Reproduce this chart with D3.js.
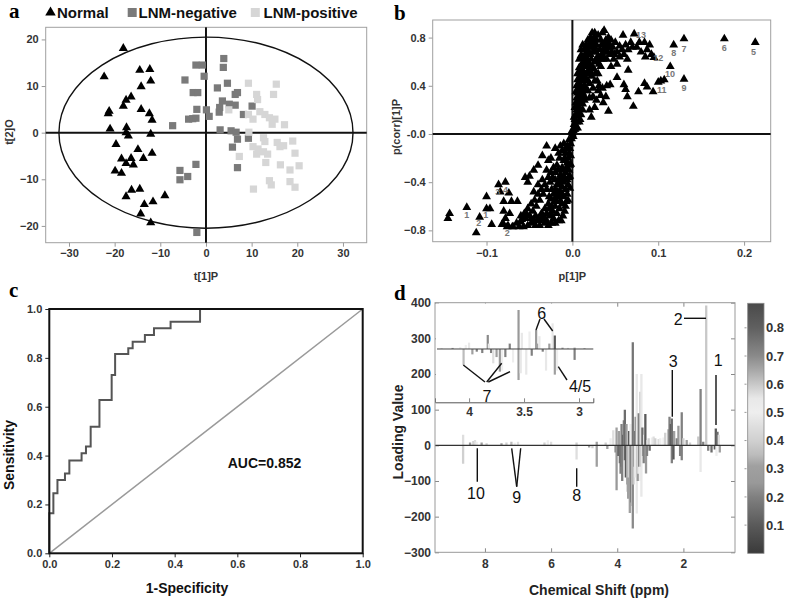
<!DOCTYPE html>
<html>
<head>
<meta charset="utf-8">
<script src="https://d3js.org/d3.v7.min.js"></script>
<style>
body { margin: 0; background: #fff; }
text { font-family: Arial, "Liberation Sans", sans-serif; }
</style>
</head>
<body>
<div id="fig"></div>
<script>
// ---------- data: panel a (scores) ----------
var normalPts = [[-18.1,18.1],[-22.3,12],[-14.5,13.4],[-12.3,13.6],[-12.1,11.1],[-14.2,9.9],[-21.2,4.6],[-21.4,4.1],
  [-16.4,7.7],[-17.5,7],[-18.1,5.7],[-14.2,5],[-12.4,4.1],[-11.8,2.7],[-21,0.8],[-17.4,1.1],[-17.5,0],[-17,-0.7],
  [-12.1,-0.3],[-19.7,-2.5],[-14.9,-3.6],[-11.8,-4.4],[-13.7,-5.5],[-18.5,-5.6],[-16.4,-5.5],[-17.5,-6.6],[-15.9,-6.9],
  [-19.9,-8.2],[-18.5,-8.7],[-16.3,-12.3],[-14.5,-12.1],[-17.5,-13.7],[-9,-13.5],[-13.5,-15.4],[-11.6,-14.8],
  [-14.3,-17.4],[-12.1,-19.3]];
var lnmNegPts = [[-2.2,14.5],[-0.8,14.5],[-0.4,12.1],[3.9,15.9],[3.8,14],[-4.6,11.3],[-2.8,8.6],[-1.8,8.6],[2.5,9.6],
  [4.7,10.6],[6.4,8.2],[6.9,8.6],[3.6,6.8],[3,5.4],[2.9,4.4],[5.1,6.1],[6.4,5.9],[10.1,5.7],[8.2,3.9],[-2,5],[0.1,4.9],
  [0.7,3.5],[-3.8,2.9],[-2.9,3],[-2.2,3.1],[-7.3,1.5],[3.1,0.6],[5.5,0.4],[6.6,0.1],[6.9,-1.4],[9.3,-1.2],[5.8,-3.1],
  [6.9,-7.5],[-2.2,-6.8],[-5.7,-8.1],[-5.7,-10.1],[-4,-9.4],[-2,-21.4]];
var lnmPosPts = [[9.3,10.6],[11.1,8.2],[11.3,7.1],[15.4,10.4],[14.8,8.2],[5,4.9],[9.3,3.9],[10.3,2.9],[11.8,4.5],
  [12.9,3.9],[13.9,3.2],[15.1,2.9],[14.5,1.8],[17.2,1.7],[9.4,0.1],[12.6,-1.1],[12.9,-1.9],[15.6,-2.1],[16.2,-3],
  [17,-2.8],[19,-1.8],[10.3,-3],[11.4,-3.5],[12.6,-4.1],[11.1,-4.6],[13.5,-4.6],[7.3,-5.1],[13.1,-6.4],[16.3,-6.9],
  [19.5,-4.4],[20.4,-7.1],[18.4,-8],[13.9,-10.3],[14.3,-11.2],[18.4,-10.5],[19.5,-11.7],[10.4,-12.1]];
var groupNames = ["Normal", "LNM-negative", "LNM-positive"];

// ---------- data: panel b (S-plot loadings) ----------
var loadPts = [
  [0.213,0.76],[0.177,0.79],[0.130,0.79],[0.118,0.74],[0.130,0.455],[0.114,0.56],[0.103,0.44],[0.107,0.45],[0.100,0.43],
  [0.095,0.635],[0.072,0.83],[0.059,0.82],[0.037,0.86],[0.035,0.84],[0.084,0.76],[0.090,0.74],[0.078,0.76],[0.068,0.76],
  [0.087,0.70],[0.092,0.66],[0.085,0.64],[0.080,0.68],[0.075,0.72],[0.070,0.72],[0.065,0.70],[0.062,0.74],[0.058,0.70],
  [0.055,0.73],[0.052,0.68],[0.050,0.76],[0.047,0.72],[0.045,0.78],[0.042,0.80],[0.040,0.76],[0.038,0.72],[0.044,0.66],
  [0.048,0.62],[0.052,0.58],[0.055,0.64],[0.060,0.66],[0.064,0.62],[0.045,0.56],[0.040,0.62],[0.036,0.68],[0.033,0.78],
  [0.030,0.82],[0.028,0.78],[0.025,0.80],[0.022,0.76],
  [0.094,0.35],[0.087,0.39],[0.084,0.42],[0.077,0.35],[0.065,0.53],[0.060,0.41],[0.062,0.37],[0.064,0.31],[0.071,0.23],
  [0.042,0.19],[0.039,0.31],[0.044,0.41],[0.035,0.38],[0.024,0.31],[0.022,0.14],[0.030,0.36],[0.052,0.47],[0.040,0.40],
  [0.033,0.32],[0.028,0.28],[0.036,0.26],[0.026,0.22],[0.020,0.20],
  [0.001,0.03],[0.002,0.08],[0.003,0.12],[0.004,0.16],[0.005,0.2],[0.006,0.24],[0.007,0.28],[0.008,0.32],[0.009,0.36],
  [0.010,0.40],[0.011,0.44],[0.012,0.48],[0.013,0.52],[0.014,0.56],[0.015,0.60],[0.016,0.64],[0.018,0.68],[0.020,0.72],
  [0.006,0.15],[0.008,0.22],[0.010,0.28],[0.012,0.34],[0.014,0.40],[0.016,0.46],[0.018,0.52],[0.020,0.58],[0.022,0.62],
  [0.024,0.68],[0.026,0.72],[0.028,0.74],[0.003,0.22],[0.005,0.30],[0.007,0.38],[0.008,0.46],[0.010,0.52],[0.011,0.58],
  [0.012,0.64],[0.014,0.70],[0.016,0.74],[0.018,0.78],[0.012,0.25],[0.015,0.30],[0.018,0.36],[0.020,0.42],[0.022,0.48],
  [0.025,0.54],[0.028,0.60],[0.030,0.65],[0.032,0.70],[0.034,0.74],[0.020,0.30],[0.024,0.38],[0.026,0.44],[0.030,0.50],
  [0.033,0.56],[0.036,0.62],[0.038,0.68],[0.040,0.72],[0.042,0.76],[0.006,0.05],[0.009,0.12],[0.004,0.35],[0.006,0.45],
  [0.008,0.55],[0.010,0.65],
  [0.004,0.05],[0.005,0.10],[0.007,0.18],[0.009,0.26],[0.011,0.32],[0.013,0.38],[0.015,0.44],[0.017,0.50],[0.019,0.56],
  [0.021,0.66],[0.023,0.72],[0.025,0.76],[0.027,0.68],[0.029,0.62],[0.031,0.58],[0.033,0.62],[0.035,0.66],[0.037,0.74],
  [0.039,0.78],[0.041,0.68],[0.043,0.72],[0.046,0.68],[0.049,0.66],[0.013,0.60],[0.015,0.66],[0.017,0.70],[0.019,0.74],
  [0.021,0.80],[0.023,0.84],[0.026,0.84],[0.006,0.34],[0.007,0.42],[0.009,0.50],[0.011,0.54],[0.013,0.46],[0.016,0.56],
  [0.018,0.60],[0.021,0.52],[0.023,0.56],[0.026,0.60],[0.027,0.50],[0.029,0.44],[0.031,0.40],[0.018,0.44],[0.016,0.36],
  [0.014,0.28],[0.012,0.20],[0.010,0.16],[0.008,0.10],[0.003,0.04],[0.002,0.14],[0.004,0.26],[0.005,0.40],[0.006,0.50],
  [0.008,0.62],[0.010,0.70],[0.012,0.74],[0.001,-0.02],[-0.001,0.02],[0.002,0.04],
  [0.000,0.00],[-0.001,-0.04],[-0.002,-0.08],[-0.003,-0.12],[-0.004,-0.16],[-0.005,-0.20],[-0.006,-0.24],[-0.007,-0.28],
  [-0.008,-0.32],[-0.009,-0.36],[-0.010,-0.40],[-0.012,-0.44],[-0.014,-0.48],[-0.016,-0.52],[-0.018,-0.56],[-0.020,-0.60],
  [-0.023,-0.64],[-0.026,-0.68],[-0.006,-0.10],[-0.008,-0.16],[-0.010,-0.22],[-0.012,-0.28],[-0.014,-0.34],[-0.016,-0.38],
  [-0.018,-0.42],[-0.020,-0.46],[-0.022,-0.50],[-0.025,-0.54],[-0.028,-0.58],[-0.032,-0.62],[-0.036,-0.66],[-0.040,-0.70],
  [-0.012,-0.14],[-0.015,-0.20],[-0.018,-0.26],[-0.020,-0.32],[-0.023,-0.36],[-0.026,-0.40],[-0.030,-0.46],[-0.034,-0.50],
  [-0.038,-0.55],[-0.042,-0.60],[-0.046,-0.64],[-0.050,-0.68],[-0.055,-0.70],[-0.060,-0.73],[-0.004,-0.30],[-0.006,-0.38],
  [-0.008,-0.46],[-0.010,-0.52],[-0.012,-0.58],[-0.015,-0.62],[-0.018,-0.66],[-0.022,-0.70],[-0.003,-0.45],[-0.005,-0.55],
  [-0.008,-0.60],[-0.030,-0.10],[-0.035,-0.18],[-0.025,-0.20],[-0.040,-0.26],[-0.045,-0.30],[-0.050,-0.35],[-0.055,-0.36],
  [-0.052,-0.40],[-0.030,-0.30],[-0.035,-0.38],[-0.040,-0.42],[-0.045,-0.48],[-0.020,-0.12],[-0.028,-0.22],
  [-0.002,-0.18],[-0.003,-0.26],[-0.004,-0.36],[-0.005,-0.42],[-0.006,-0.50],[-0.007,-0.56],[-0.009,-0.64],[-0.011,-0.68],
  [-0.013,-0.72],[-0.016,-0.72],[-0.020,-0.74],[-0.024,-0.74],[-0.028,-0.76],[-0.032,-0.74],[-0.038,-0.76],[-0.043,-0.76],
  [-0.048,-0.74],[-0.052,-0.76],[-0.057,-0.77],[-0.062,-0.77],[-0.007,-0.12],[-0.009,-0.20],[-0.011,-0.30],[-0.013,-0.38],
  [-0.015,-0.42],[-0.017,-0.48],[-0.019,-0.52],[-0.021,-0.56],[-0.024,-0.60],[-0.027,-0.62],[-0.030,-0.66],[-0.034,-0.68],
  [-0.038,-0.72],[-0.043,-0.68],[-0.048,-0.70],[-0.010,-0.08],[-0.014,-0.10],[-0.016,-0.16],[-0.022,-0.28],[-0.025,-0.32],
  [-0.028,-0.36],[-0.032,-0.42],[-0.036,-0.46],[-0.040,-0.50],[-0.044,-0.55],[-0.048,-0.58],[-0.052,-0.62],[-0.056,-0.66],
  [-0.060,-0.68],[-0.020,-0.38],[-0.017,-0.30],[-0.024,-0.46],[-0.027,-0.52],[-0.012,-0.50],[-0.014,-0.56],[-0.004,-0.05],
  [-0.003,-0.35],[-0.002,-0.25],
  [-0.065,-0.74],[-0.070,-0.77],[-0.075,-0.76],[-0.080,-0.75],[-0.045,-0.72],[-0.035,-0.70],[-0.030,-0.72],[-0.025,-0.66],
  [-0.143,-0.66],[-0.145,-0.70],[-0.123,-0.61],[-0.108,-0.69],[-0.112,-0.82],[-0.100,-0.52],[-0.100,-0.62],[-0.096,-0.62],
  [-0.094,-0.75],[-0.086,-0.42],[-0.078,-0.40],[-0.074,-0.49],[-0.080,-0.56],[-0.071,-0.56],[-0.064,-0.56],[-0.084,-0.48],
  [-0.080,-0.64],[-0.073,-0.66],[-0.078,-0.70],[-0.082,-0.75],[-0.076,-0.77],[-0.069,-0.77],[-0.059,-0.71],[-0.053,-0.67]];
var loadLabels = [["13",0.080,0.825],["12",0.100,0.635],["10",0.1136,0.497],["11",0.104,0.37],["9",0.130,0.386],
  ["8",0.118,0.676],["7",0.130,0.709],["6",0.177,0.717],["5",0.211,0.681],["1",-0.123,-0.67],["2",-0.109,-0.734],
  ["1",-0.101,-0.67],["3",-0.087,-0.477],["4",-0.078,-0.463],["2",-0.076,-0.822]];

// ---------- data: panel c (ROC) ----------
var rocFpr = [0, 0.013, 0.026, 0.05, 0.064, 0.103, 0.117, 0.132, 0.16, 0.199, 0.21, 0.252, 0.266, 0.305, 0.334, 0.387, 0.481, 1.0];
var rocTpr = [0, 0.164, 0.246, 0.30, 0.327, 0.38, 0.41, 0.437, 0.518, 0.628, 0.73, 0.816, 0.839, 0.866, 0.894, 0.921, 0.948, 1.0];
var aucText = "AUC=0.852";

// ---------- data: panel d (loading plot) [ppm, loading, |corr|] ----------
var spectrum = [
  [8.66,30,0.45],[8.66,-52,0.4],[8.45,8,0.3],[8.35,12,0.4],[8.3,15,0.45],[8.25,10,0.5],[8.1,8,0.3],[7.95,6,0.4],
  [7.5,6,0.3],[7.35,8,0.4],[7.2,10,0.35],[7.1,7,0.5],[7.0,10,0.45],[6.2,8,0.4],[6.1,14,0.5],[6.0,10,0.45],
  [5.23,-40,0.45],[5.23,8,0.4],[4.85,-6,0.3],[4.75,-8,0.4],[4.62,-60,0.3],[4.62,10,0.3],[4.35,8,0.4],[4.3,-10,0.3],
  [4.2,20,0.5],[4.12,42,0.45],[4.05,-20,0.2],[4.02,50,0.3],[4.02,-126,0.25],[3.97,-30,0.15],[3.95,40,0.3],[3.92,-50,0.1],
  [3.9,-80,0.2],[3.87,60,0.2],[3.87,-60,0.15],[3.85,-100,0.2],[3.82,30,0.1],[3.8,70,0.2],[3.77,100,0.15],[3.77,-42,0.15],
  [3.74,-90,0.1],[3.72,60,0.3],[3.7,-110,0.15],[3.69,-130,0.6],[3.67,-150,0.3],[3.65,-90,0.55],[3.64,40,0.1],
  [3.62,-190,0.3],[3.6,60,0.5],[3.58,-160,0.2],[3.57,-120,0.2],[3.55,-170,0.4],[3.53,289,0.75],[3.53,-233,0.7],
  [3.51,-110,0.6],[3.49,40,0.2],[3.47,-60,0.1],[3.46,-90,0.55],[3.44,80,0.15],[3.43,-40,0.5],[3.41,200,0.55],
  [3.41,-191,0.55],[3.38,-100,0.25],[3.36,-80,0.55],[3.35,90,0.2],[3.33,-60,0.1],[3.31,-100,0.5],[3.3,150,0.6],
  [3.29,-60,0.2],[3.27,200,0.55],[3.27,-144,0.55],[3.24,50,0.15],[3.22,-30,0.3],[3.2,-50,0.2],[3.18,30,0.5],
  [3.15,88,0.1],[3.13,-79,0.25],[3.1,-30,0.2],[3.08,15,0.5],[3.05,20,0.4],[3.02,-15,0.15],[2.95,22,0.5],[2.9,25,0.45],
  [2.85,20,0.4],[2.75,18,0.45],[2.7,20,0.5],[2.6,22,0.5],[2.55,35,0.4],[2.45,45,0.3],[2.42,80,0.2],[2.38,60,0.1],
  [2.35,75,0.15],[2.35,-50,0.2],[2.3,-40,0.1],[2.28,40,0.3],[2.2,20,0.2],[2.15,55,0.25],[2.1,-30,0.2],[2.05,93,0.2],
  [2.05,-42,0.2],[2.0,20,0.4],[1.9,15,0.3],[1.8,8,0.4],[1.55,25,0.6],[1.48,158,0.72],[1.48,-75,0.55],[1.4,10,0.2],
  [1.31,392,0.6],[1.25,-15,0.2],[1.15,-20,0.15],[1.05,-12,0.1],[1.02,47,0.1],[1.0,-30,0.5],[0.97,38,0.15],
  [0.93,30,0.45],[0.9,-20,0.3]];
var insetSpectrum = [
  [4.25,5,0.4],[4.15,8,0.3],[4.08,15,0.5],[4.05,-118,0.35],[4.03,30,0.5],[4.0,47,0.55],[3.97,-40,0.3],[3.93,-20,0.2],
  [3.88,-30,0.2],[3.83,104,0.7],[3.82,40,0.55],[3.8,-30,0.2],[3.78,-106,0.45],[3.75,-60,0.3],[3.72,-168,0.25],
  [3.7,-160,0.5],[3.67,-60,0.2],[3.63,40,0.2],[3.6,-100,0.5],[3.55,289,0.25],[3.55,-230,0.3],[3.53,-180,0.55],
  [3.52,120,0.55],[3.48,-190,0.55],[3.45,130,0.5],[3.43,-50,0.2],[3.39,141,0.25],[3.38,40,0.3],[3.36,95,0.55],
  [3.33,-20,0.2],[3.3,-160,0.55],[3.27,40,0.3],[3.24,190,0.55],[3.22,100,0.1],[3.22,-190,0.3],[3.2,-160,0.5],
  [3.15,10,0.3],[3.1,8,0.4],[3.04,-81,0.2],[3.04,10,0.3],[2.95,5,0.3]];
var colorbarTicks = [0.1, 0.2, 0.3, 0.4, 0.5, 0.6, 0.7, 0.8];
var cmapStops = [0, 0.1, 0.2, 0.25, 0.31, 0.35, 0.4, 0.45, 0.5, 0.55, 0.6, 0.65, 0.7, 0.8, 0.887];
var cmapGrays = ["#3a3a3a","#5a5a5a","#808080","#999999","#a0a0a0","#bcbcbc","#d0d0d0","#dedede","#eeeeee","#e8e8e8","#c8c8c8","#a8a8a8","#8a8a8a","#606060","#4a4a4a"];

var svg = d3.select("#fig").append("svg")
  .attr("width", 787).attr("height", 602)
  .style("background", "#fff");

var tri = d3.symbol().type(d3.symbolTriangle).size(36);
var sq = d3.symbol().type(d3.symbolSquare).size(52);

function tidyAxis(g, size) {
  g.select(".domain").remove();
  g.selectAll("text").style("font-size", size + "px").style("font-weight", "bold").attr("fill", "#333");
}

function panelLetter(x, y, t) {
  svg.append("text").attr("x", x).attr("y", y).text(t)
    .style("font-family", "'Liberation Serif', 'Times New Roman', serif")
    .style("font-weight", "bold").style("font-size", "21px");
}

// ================= panel a =================
var xA = d3.scaleLinear().domain([-35.1, 35.2]).range([45.7, 366.7]);
var yA = d3.scaleLinear().domain([-23.6, 22.6]).range([242.7, 27.3]);
var gA = svg.append("g");

gA.append("g").attr("transform", "translate(0,242.7)")
  .call(d3.axisBottom(xA).tickValues([-30,-20,-10,0,10,20,30]).tickSize(4).tickPadding(3))
  .call(g => tidyAxis(g, 11))
  .call(g => g.selectAll("line").attr("stroke", "#999"));
gA.append("g").attr("transform", "translate(45.7,0)")
  .call(d3.axisLeft(yA).tickValues([-20,-10,0,10,20]).tickSize(4).tickPadding(3))
  .call(g => tidyAxis(g, 11))
  .call(g => g.selectAll("line").attr("stroke", "#999"));

gA.append("rect").attr("x", 45.7).attr("y", 27.3).attr("width", 321).attr("height", 215.4)
  .attr("fill", "none").attr("stroke", "#a0a0a0");
gA.append("ellipse").attr("cx", xA(0)).attr("cy", yA(0))
  .attr("rx", xA(32.2) - xA(0)).attr("ry", yA(0) - yA(20.5))
  .attr("fill", "none").attr("stroke", "#111").attr("stroke-width", 1.4);
gA.append("line").attr("x1", xA(0)).attr("x2", xA(0)).attr("y1", 27.3).attr("y2", 242.7).attr("stroke", "#111").attr("stroke-width", 2);
gA.append("line").attr("x1", 45.7).attr("x2", 366.7).attr("y1", yA(0)).attr("y2", yA(0)).attr("stroke", "#111").attr("stroke-width", 2);

gA.append("g").selectAll("path").data(lnmNegPts).join("path")
  .attr("d", sq).attr("transform", d => "translate(" + xA(d[0]) + "," + yA(d[1]) + ")").attr("fill", "#7a7a7a");
gA.append("g").selectAll("path").data(lnmPosPts).join("path")
  .attr("d", sq).attr("transform", d => "translate(" + xA(d[0]) + "," + yA(d[1]) + ")").attr("fill", "#d6d6d6");
gA.append("g").selectAll("path").data(normalPts).join("path")
  .attr("d", tri).attr("transform", d => "translate(" + xA(d[0]) + "," + yA(d[1]) + ")").attr("fill", "#000");

gA.append("text").attr("x", 206).attr("y", 280).attr("text-anchor", "middle")
  .style("font-size", "11px").style("font-weight", "bold").attr("fill", "#333").text("t[1]P");
gA.append("text").attr("transform", "translate(13,132) rotate(-90)").attr("text-anchor", "middle")
  .style("font-size", "11px").style("font-weight", "bold").attr("fill", "#333").text("t[2]O");

// legend
var legX = [50.5, 132.2, 255.3];
var legText = [57, 138.5, 263.5];
gA.append("path").attr("d", d3.symbol().type(d3.symbolTriangle).size(48)).attr("transform", "translate(" + legX[0] + ",12.5)").attr("fill", "#000");
gA.append("rect").attr("x", legX[1] - 4.5).attr("y", 8).attr("width", 9).attr("height", 9).attr("fill", "#7a7a7a");
gA.append("rect").attr("x", legX[2] - 4.5).attr("y", 8).attr("width", 9).attr("height", 9).attr("fill", "#d6d6d6");
groupNames.forEach(function (n, i) {
  gA.append("text").attr("x", legText[i]).attr("y", 18).style("font-size", "15px").style("font-weight", "bold")
    .attr("fill", "#111").text(n);
});
panelLetter(9, 18, "a");

// ================= panel b =================
var xB = d3.scaleLinear().domain([-0.1627, 0.231]).range([432.7, 770.7]);
var yB = d3.scaleLinear().domain([-0.894, 0.946]).range([241.7, 20]);
var gB = svg.append("g");

gB.append("g").attr("transform", "translate(0,241.7)")
  .call(d3.axisBottom(xB).tickValues([-0.1, 0, 0.1, 0.2]).tickFormat(d3.format(".1f")).tickSize(4).tickPadding(4))
  .call(g => tidyAxis(g, 11))
  .call(g => g.selectAll("line").attr("stroke", "#999"));
gB.append("g").attr("transform", "translate(432.7,0)")
  .call(d3.axisLeft(yB).tickValues([-0.8, -0.4, 0, 0.4, 0.8])
    .tickFormat(d => d === 0 ? "-0.0" : d3.format(".1f")(d)).tickSize(4).tickPadding(3))
  .call(g => tidyAxis(g, 11))
  .call(g => g.selectAll("line").attr("stroke", "#999"));

gB.append("rect").attr("x", 432.7).attr("y", 20).attr("width", 338).attr("height", 221.7)
  .attr("fill", "none").attr("stroke", "#a0a0a0");
gB.append("line").attr("x1", xB(0)).attr("x2", xB(0)).attr("y1", 20).attr("y2", 241.7).attr("stroke", "#111").attr("stroke-width", 2);
gB.append("line").attr("x1", 432.7).attr("x2", 770.7).attr("y1", yB(0)).attr("y2", yB(0)).attr("stroke", "#111").attr("stroke-width", 2);

gB.append("g").selectAll("path").data(loadPts).join("path")
  .attr("d", d3.symbol().type(d3.symbolTriangle).size(34))
  .attr("transform", d => "translate(" + xB(d[0]) + "," + yB(d[1]) + ")").attr("fill", "#000");
gB.append("g").selectAll("text").data(loadLabels).join("text")
  .attr("x", d => xB(d[1])).attr("y", d => yB(d[2])).attr("text-anchor", "middle").attr("dy", "0.35em")
  .style("font-size", "9px").style("font-weight", "bold").attr("fill", "#777").text(d => d[0]);

gB.append("text").attr("x", 572.3).attr("y", 280).attr("text-anchor", "middle")
  .style("font-size", "11px").style("font-weight", "bold").attr("fill", "#333").text("p[1]P");
gB.append("text").attr("transform", "translate(400,127) rotate(-90)").attr("text-anchor", "middle")
  .style("font-size", "11px").style("font-weight", "bold").attr("fill", "#333").text("p(corr)[1]P");
panelLetter(394, 20, "b");

// ================= panel c =================
var xC = d3.scaleLinear().domain([0, 1]).range([49.3, 362.7]);
var yC = d3.scaleLinear().domain([0, 1]).range([553.3, 309]);
var gC = svg.append("g");

gC.append("g").attr("transform", "translate(0,553.3)")
  .call(d3.axisBottom(xC).tickValues(d3.range(0, 1.01, 0.2)).tickFormat(d3.format(".1f")).tickSize(4).tickPadding(3))
  .call(g => tidyAxis(g, 11))
  .call(g => g.selectAll("line").attr("stroke", "#222"));
gC.append("g").attr("transform", "translate(49.3,0)")
  .call(d3.axisLeft(yC).tickValues(d3.range(0, 1.01, 0.2)).tickFormat(d3.format(".1f")).tickSize(4).tickPadding(3))
  .call(g => tidyAxis(g, 11))
  .call(g => g.selectAll("line").attr("stroke", "#222"));

gC.append("line").attr("x1", xC(0)).attr("y1", yC(0)).attr("x2", xC(1)).attr("y2", yC(1))
  .attr("stroke", "#9a9a9a").attr("stroke-width", 1.5);
var rocLine = d3.line().x(d => xC(d[0])).y(d => yC(d[1])).curve(d3.curveStepBefore);
gC.append("path").datum(rocFpr.map((f, i) => [f, rocTpr[i]])).attr("d", rocLine)
  .attr("fill", "none").attr("stroke", "#555").attr("stroke-width", 2);
gC.append("rect").attr("x", 49.3).attr("y", 309).attr("width", 313.4).attr("height", 244.3)
  .attr("fill", "none").attr("stroke", "#111").attr("stroke-width", 2);

gC.append("text").attr("x", 264.5).attr("y", 468).attr("text-anchor", "middle")
  .style("font-size", "14px").style("font-weight", "bold").attr("fill", "#111").text(aucText);
gC.append("text").attr("x", 187).attr("y", 593).attr("text-anchor", "middle")
  .style("font-size", "14px").style("font-weight", "bold").attr("fill", "#111").text("1-Specificity");
gC.append("text").attr("transform", "translate(14,455) rotate(-90)").attr("text-anchor", "middle")
  .style("font-size", "14px").style("font-weight", "bold").attr("fill", "#111").text("Sensitivity");
panelLetter(9, 297, "c");

// ================= panel d =================
var xD = d3.scaleLinear().domain([9.51, 0.44]).range([435, 735]);
var yD = d3.scaleLinear().domain([-300, 400]).range([552.3, 302.7]);
var cmap = d3.scaleLinear().domain(cmapStops).range(cmapGrays);
var gD = svg.append("g");

gD.append("defs").append("clipPath").attr("id", "clipD")
  .append("rect").attr("x", 435).attr("y", 302.7).attr("width", 300).attr("height", 249.6);

gD.append("g").attr("transform", "translate(0,552.3)")
  .call(d3.axisBottom(xD).tickValues([8, 6, 4, 2]).tickSize(-4).tickPadding(7))
  .call(g => tidyAxis(g, 12))
  .call(g => g.selectAll("line").attr("stroke", "#888"));
gD.append("g").attr("transform", "translate(435,0)")
  .call(d3.axisLeft(yD).tickValues(d3.range(-300, 401, 100)).tickSize(-4).tickPadding(4))
  .call(g => tidyAxis(g, 12))
  .call(g => g.selectAll("line").attr("stroke", "#888"));
gD.append("g").attr("transform", "translate(735,0)")
  .call(d3.axisRight(yD).tickValues(d3.range(-300, 401, 100)).tickSize(-4).tickFormat(""))
  .call(g => g.select(".domain").remove())
  .call(g => g.selectAll("line").attr("stroke", "#888"));
gD.append("g").attr("transform", "translate(0,302.7)")
  .call(d3.axisTop(xD).tickValues([8, 6, 4, 2]).tickSize(-4).tickFormat(""))
  .call(g => g.select(".domain").remove())
  .call(g => g.selectAll("line").attr("stroke", "#888"));

var specG = gD.append("g").attr("clip-path", "url(#clipD)");
specG.selectAll("line").data(spectrum).join("line")
  .attr("x1", d => xD(d[0])).attr("x2", d => xD(d[0]))
  .attr("y1", yD(0)).attr("y2", d => yD(d[1]))
  .attr("stroke", d => cmap(d[2])).attr("stroke-width", 2.3);
specG.append("line").attr("x1", 435).attr("x2", 735).attr("y1", yD(0)).attr("y2", yD(0))
  .attr("stroke", "#333").attr("stroke-width", 1.3);

// inset (3-4.3 ppm zoom)
var xI = d3.scaleLinear().domain([4.31, 2.87]).range([435, 593.3]);
var yI = d3.scaleLinear().domain([-395, 343]).range([402.3, 302.7]);
var gI = gD.append("g");
gI.append("rect").attr("x", 436).attr("y", 303.5).attr("width", 157.3).attr("height", 98.8).attr("fill", "#fff");
gI.selectAll("line.sp").data(insetSpectrum).join("line").attr("class", "sp")
  .attr("x1", d => xI(d[0])).attr("x2", d => xI(d[0]))
  .attr("y1", yI(0)).attr("y2", d => yI(d[1]))
  .attr("stroke", d => cmap(d[2])).attr("stroke-width", 2.2);
gI.append("line").attr("x1", 437).attr("x2", 593.3).attr("y1", yI(0)).attr("y2", yI(0))
  .attr("stroke", "#444").attr("stroke-width", 1);
gI.append("g").attr("transform", "translate(0,402.3)")
  .call(d3.axisBottom(xI).tickValues([4, 3.5, 3]).tickSize(-4).tickPadding(5).tickFormat(d3.format("")))
  .call(g => g.select(".domain").attr("stroke", "#555"))
  .call(g => g.selectAll("text").style("font-size", "12px").style("font-weight", "bold").attr("fill", "#333"))
  .call(g => g.selectAll("line").attr("stroke", "#888"));

gD.append("rect").attr("x", 435).attr("y", 302.7).attr("width", 300).attr("height", 249.6)
  .attr("fill", "none").attr("stroke", "#999");

// annotations
function ann(x, y, t) {
  gD.append("text").attr("x", x).attr("y", y).attr("text-anchor", "middle").attr("dy", "0.35em")
    .style("font-size", "16px").attr("fill", "#111").text(t);
}
function seg(x1, y1, x2, y2) {
  gD.append("line").attr("x1", x1).attr("y1", y1).attr("x2", x2).attr("y2", y2)
    .attr("stroke", "#111").attr("stroke-width", 1.4);
}
ann(541.7, 313, "6"); seg(540, 319, 536, 330); seg(544, 319, 552.7, 331);
ann(487, 396, "7"); seg(485, 382, 463.3, 365); seg(486.7, 382, 501.7, 363.3); seg(488.3, 382, 510, 371.7);
ann(580, 386, "4/5"); seg(567, 380, 558.3, 366.7);
ann(678.3, 319.5, "2"); seg(684, 318.3, 706, 318.3);
ann(673.3, 361.7, "3"); seg(672.3, 370, 672.3, 416.7);
ann(718.3, 360, "1"); seg(716, 375, 716, 425);
ann(476, 493, "10"); seg(477.3, 448.3, 477.3, 481.7);
ann(516.7, 497, "9"); seg(511.7, 448.3, 516.7, 486.7); seg(520.7, 448.3, 516.7, 486.7);
ann(576.7, 495, "8"); seg(576.7, 468.3, 576.7, 486.7);

gD.append("text").attr("x", 599).attr("y", 595).attr("text-anchor", "middle")
  .style("font-size", "14px").style("font-weight", "bold").attr("fill", "#222").text("Chemical Shift (ppm)");
gD.append("text").attr("transform", "translate(403,432) rotate(-90)").attr("text-anchor", "middle")
  .style("font-size", "14px").style("font-weight", "bold").attr("fill", "#222").text("Loading Value");
panelLetter(394, 300, "d");

// colorbar
var yCb = d3.scaleLinear().domain([0, 0.887]).range([553.3, 303.3]);
var grad = svg.append("defs").append("linearGradient").attr("id", "cbGrad")
  .attr("x1", 0).attr("x2", 0).attr("y1", 1).attr("y2", 0);
cmapStops.forEach(function (s, i) {
  grad.append("stop").attr("offset", s / 0.887).attr("stop-color", cmapGrays[i]);
});
svg.append("rect").attr("x", 747.7).attr("y", 303.3).attr("width", 16.3).attr("height", 250)
  .attr("fill", "url(#cbGrad)").attr("stroke", "#888").attr("stroke-width", 0.8);
svg.append("g").attr("transform", "translate(764,0)")
  .call(d3.axisRight(yCb).tickValues(colorbarTicks).tickSize(0).tickPadding(2).tickFormat(d3.format(".1f")))
  .call(g => tidyAxis(g, 13));
svg.append("g").selectAll("line").data(colorbarTicks).join("line")
  .attr("x1", 744.5).attr("x2", 746.5).attr("y1", d => yCb(d)).attr("y2", d => yCb(d)).attr("stroke", "#999");
</script>
</body>
</html>
